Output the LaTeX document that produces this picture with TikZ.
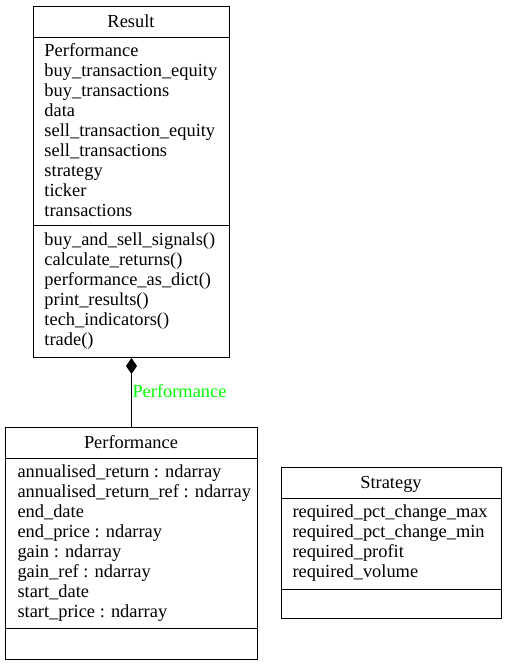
\documentclass[tikz,border=0pt]{standalone}
\usepackage{fontspec}
\setmainfont{Liberation Serif}
\usetikzlibrary{arrows.meta}
\definecolor{lblgreen}{RGB}{0,255,0}
\begin{document}
\begin{tikzpicture}[x=1pt,y=-1pt,line width=1pt,
  box/.style={draw, inner sep=0pt, anchor=north west},
  txt/.style={anchor=base west, inner sep=0pt, font=\fontsize{18.4}{20}\selectfont},
  ttl/.style={anchor=base, inner sep=0pt, font=\fontsize{18.4}{20}\selectfont}]
\useasboundingbox (0,0) rectangle (507,665);
% Result
\node[box, minimum width=196pt, minimum height=351pt] (res) at (33,6) {};
\draw (33,37) -- (229,37);
\draw (33,225.5) -- (229,225.5);
\node[ttl] (resT) at (131,27) {Result};
\foreach \t [count=\i from 0] in {Performance, buy\_transaction\_equity, buy\_transactions, data, sell\_transaction\_equity, sell\_transactions, strategy, ticker, transactions}
  \node[txt] (resA\i) at (44,{56.5+20*\i}) {\t};
\foreach \t [count=\i from 0] in {buy\_and\_sell\_signals(), calculate\_returns(), performance\_as\_dict(), print\_results(), tech\_indicators(), trade()}
  \node[txt] (resM\i) at (44,{245.5+20*\i}) {\t};
% Performance
\node[box, minimum width=252pt, minimum height=232pt] (perf) at (5,427) {};
\draw (5,458) -- (257,458);
\draw (5,628) -- (257,628);
\node[ttl] (perfT) at (131,448) {Performance};
\foreach \t [count=\i from 0] in {annualised\_return : ndarray, annualised\_return\_ref : ndarray, end\_date, end\_price : ndarray, gain : ndarray, gain\_ref : ndarray, start\_date, start\_price : ndarray}
  \node[txt] (perfA\i) at (17,{477.5+20*\i}) {\t};
% Strategy
\node[box, minimum width=220pt, minimum height=151pt] (strat) at (281,467) {};
\draw (281,498) -- (501,498);
\draw (281,589) -- (501,589);
\node[ttl] (stratT) at (391,488) {Strategy};
\foreach \t [count=\i from 0] in {required\_pct\_change\_max, required\_pct\_change\_min, required\_profit, required\_volume}
  \node[txt] (stratA\i) at (292,{517.5+20*\i}) {\t};
% Composition
\draw[{Diamond[length=16pt,width=11pt,fill=black]}-] (res.south) -- (perf.north);
\node[txt, text=lblgreen] (lbl) at (132,397) {Performance};
\end{tikzpicture}
\end{document}
